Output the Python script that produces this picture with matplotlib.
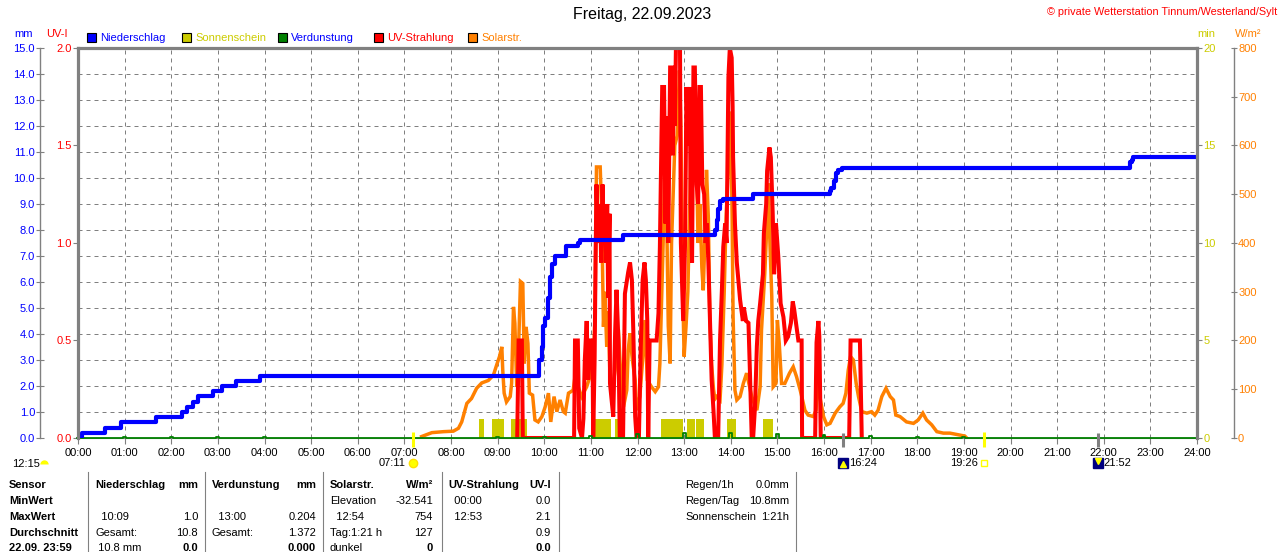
import matplotlib
matplotlib.use('Agg')
import matplotlib.pyplot as plt
from matplotlib.patches import Rectangle
from matplotlib.transforms import blended_transform_factory

plt.rcParams['font.family'] = ['Liberation Sans', 'DejaVu Sans']
plt.rcParams['font.size'] = 8

# Niederschlag, kumuliert (Stunde, mm) - Treppenkurve
rain_h = [0, 0.09, 0.58, 0.92, 1.67, 2.23, 2.33, 2.47, 2.57, 2.9, 3.09, 3.39, 3.9,
          9.89, 9.95, 9.98, 10.02, 10.09, 10.12, 10.16, 10.23, 10.47, 10.73, 10.77, 11.69,
          13.66, 13.7, 13.73, 13.76, 13.78, 13.83, 14.48,
          16.13, 16.16, 16.21, 16.26, 16.31, 16.38, 22.56, 22.6, 22.63, 24]
rain_mm = [0.0, 0.2, 0.4, 0.6, 0.8, 1.0, 1.2, 1.4, 1.6, 1.8, 2.0, 2.2, 2.4,
           3.0, 3.5, 4.3, 4.6, 5.4, 6.2, 6.7, 7.0, 7.4, 7.5, 7.6, 7.8,
           8.0, 8.4, 8.8, 9.0, 9.1, 9.2, 9.4,
           9.5, 9.6, 9.9, 10.2, 10.3, 10.4, 10.6, 10.7, 10.8, 10.8]

# Solarstrahlung (Stunde, W/m²)
sol_h = [7.37, 7.59, 7.84, 8.05, 8.16, 8.23, 8.34, 8.44, 8.55, 8.66, 8.80, 8.91, 8.98, 9.04,
         9.09, 9.11, 9.14, 9.19, 9.27, 9.30, 9.34, 9.37, 9.41, 9.44, 9.49, 9.54, 9.57, 9.61,
         9.65, 9.68, 9.75, 9.80, 9.87, 9.95, 10.02, 10.09, 10.14, 10.21, 10.27, 10.34, 10.41,
         10.45, 10.52, 10.62, 10.66, 10.73, 10.80, 10.91, 10.98, 11.05, 11.09, 11.12, 11.20,
         11.23, 11.27, 11.30, 11.34, 11.37, 11.41, 11.47, 11.52, 11.55, 11.59, 11.64, 11.70,
         11.77, 11.80, 11.84, 11.88, 11.90, 11.95, 11.98, 12.05, 12.11, 12.16, 12.21, 12.30,
         12.38, 12.45, 12.48, 12.52, 12.55, 12.59, 12.63, 12.66, 12.70, 12.73, 12.77, 12.80,
         12.85, 12.90, 12.93, 12.97, 13.00, 13.04, 13.08, 13.12, 13.16, 13.20, 13.23, 13.27,
         13.30, 13.34, 13.38, 13.41, 13.45, 13.48, 13.52, 13.55, 13.59, 13.63, 13.66, 13.70,
         13.77, 13.81, 13.86, 13.90, 13.95, 14.00, 14.03, 14.05, 14.09, 14.13, 14.20, 14.27,
         14.34, 14.45, 14.56, 14.63, 14.66, 14.73, 14.77, 14.81, 14.83, 14.88, 14.91, 14.97,
         15.00, 15.04, 15.09, 15.16, 15.26, 15.34, 15.41, 15.49, 15.54, 15.59, 15.66, 15.77,
         15.83, 15.88, 15.91, 15.99, 16.06, 16.13, 16.24, 16.34, 16.41, 16.47, 16.52, 16.57,
         16.63, 16.69, 16.74, 16.81, 16.92, 17.02, 17.09, 17.16, 17.24, 17.33, 17.42, 17.49,
         17.54, 17.63, 17.77, 17.92, 18.02, 18.12, 18.20, 18.31, 18.42, 18.56, 18.70, 18.81,
         18.92, 19.02, 19.06]
sol_w = [3, 11, 13, 14, 20, 33, 71, 81, 102, 113, 118, 129, 150, 167,
         187, 139, 92, 74, 85, 112, 269, 235, 105, 153, 321, 317, 153, 228,
         194, 92, 88, 37, 33, 44, 64, 92, 33, 85, 54, 78, 54,
         51, 92, 98, 126, 105, 85, 105, 126, 153, 250, 556, 556,
         470, 228, 300, 187, 260, 126, 105, 139, 200, 222, 133, 64,
         98, 180, 215, 170, 153, 119, 57, 85, 160, 242, 119, 105,
         95, 105, 153, 290, 400, 598, 430, 230, 153, 400, 515, 600,
         620, 754, 640, 300, 167, 228, 300, 480, 660, 560, 640, 540,
         400, 480, 350, 303, 420, 550, 450, 250, 150, 100, 80, 85,
         78, 150, 300, 450, 560, 670, 450, 250, 98, 78, 85, 112,
         133, 85, 57, 105, 222, 338, 427, 522, 430, 290, 105, 112,
         242, 194, 112, 112, 133, 146, 126, 98, 78, 57, 47, 44,
         57, 167, 85, 44, 27, 30, 51, 64, 71, 92, 139, 167,
         160, 112, 85, 54, 51, 54, 47, 57, 85, 102, 85, 78,
         47, 44, 33, 30, 37, 51, 37, 27, 13, 10, 10, 8,
         6, 4, 0]

# UV-Strahlung (Stunde, UV-I)
uv_h = [9.42, 9.45, 9.52, 9.54, 10.64, 10.66, 10.72, 10.75, 10.81, 10.84, 10.87, 10.91, 10.94,
        10.97, 11.02, 11.04, 11.05, 11.08, 11.10, 11.12, 11.15, 11.20, 11.22, 11.25, 11.28,
        11.30, 11.32, 11.35, 11.37, 11.40, 11.41, 11.48, 11.52, 11.55, 11.59, 11.62, 11.69,
        11.73, 11.80, 11.84, 11.88, 11.91, 11.95, 11.98, 12.03, 12.07, 12.11, 12.15, 12.18,
        12.21, 12.23, 12.26, 12.41, 12.45, 12.48, 12.50, 12.53, 12.57, 12.60, 12.63, 12.66,
        12.70, 12.74, 12.76, 12.78, 12.80, 12.83, 12.91, 12.93, 12.98, 13.02, 13.05, 13.08,
        13.12, 13.14, 13.17, 13.20, 13.23, 13.27, 13.30, 13.33, 13.36, 13.39, 13.43, 13.46,
        13.49, 13.52, 13.55, 13.59, 13.63, 13.66, 13.73, 13.77, 13.81, 13.84, 13.88, 13.91,
        13.95, 13.98, 14.02, 14.04, 14.05, 14.09, 14.13, 14.20, 14.26, 14.28, 14.33, 14.38,
        14.41, 14.45, 14.48, 14.52, 14.56, 14.59, 14.63, 14.69, 14.71, 14.76, 14.78, 14.83,
        14.86, 14.90, 14.93, 14.97, 15.02, 15.07, 15.13, 15.18, 15.23, 15.29, 15.33, 15.36,
        15.40, 15.45, 15.52, 15.53, 15.81, 15.84, 15.88, 15.90, 15.93, 16.54, 16.57, 16.77,
        16.81]
uv_i = [0, 0.5, 0.5, 0, 0, 0.5, 0.5, 0.05, 0, 0.1, 0.4, 0.6, 0.3,
        0.5, 0.5, 0.3, 0, 0.4, 0.9, 1.3, 1.0, 1.2, 0.9, 1.3, 1.0,
        1.18, 0.9, 1.2, 0.72, 1.15, 0.28, 0.11, 0.54, 0.76, 0.5, 0, 0,
        0.74, 0.85, 0.9, 0.81, 0.55, 0.11, 0, 0, 0.47, 0.81, 0.9, 0.81,
        0.6, 0, 0.5, 0.5, 0.64, 0.98, 1.3, 1.8, 1.8, 1.1, 1.65, 1.0,
        1.9, 1.9, 1.45, 1.9, 1.6, 2.1, 2.1, 1.0, 0.6, 1.0, 1.8, 1.5,
        1.8, 1.2, 0.9, 1.9, 1.9, 1.3, 1.2, 1.8, 1.8, 1.3, 1.25, 1.0,
        1.1, 0.9, 0.64, 0.3, 0.14, 0, 0, 0.5, 0.76, 0.98, 1.1, 1.0,
        1.85, 2.0, 1.95, 1.7, 1.44, 1.1, 0.9, 0.71, 0.6, 0.67, 0.6, 0.59,
        0.35, 0, 0, 0.16, 0.47, 0.6, 0.69, 0.84, 1.05, 1.2, 1.37, 1.49,
        1.44, 1.15, 0.84, 1.1, 0.93, 0.69, 0.62, 0.5, 0.52, 0.59, 0.7, 0.66,
        0.59, 0.5, 0.5, 0, 0, 0.49, 0.6, 0.52, 0, 0, 0.5, 0.5,
        0]

# Sonnenschein (Beginn, Ende in Stunden, Minuten)
sun_start = [8.59, 8.89, 9.29, 9.42, 11.09, 11.52, 12.50, 13.07, 13.25, 13.93, 14.69]
sun_end = [8.70, 9.14, 9.39, 9.64, 11.43, 11.61, 12.98, 13.23, 13.42, 14.11, 14.90]
sun_min = [1.0] * len(sun_start)

# Verdunstung je Stunde (mm)
evap_h = list(range(25))
evap_mm = [0.0, 0.03, 0.03, 0.03, 0.03, 0.0, 0.0, 0.0, 0.0, 0.02, 0.04, 0.06, 0.15,
           0.204, 0.2, 0.15, 0.1, 0.06, 0.04, 0.02, 0.0, 0.0, 0.0, 0.0, 0.0]

# Sonne/Mond Zeiten
sun_ev_h = [7.183, 19.433]
sun_ev_lbl = ['07:11', '19:26']
moon_ev_h = [16.4, 21.867]
moon_ev_lbl = ['16:24', '21:52']

hour_labels = ['%02d:00' % h for h in range(25)]
mm_ticks = list(range(16))
uv_ticks = [0, 0.5, 1.0, 1.5, 2.0]
min_ticks = [0, 5, 10, 15, 20]
w_ticks = list(range(0, 801, 100))

leg_names = ['Niederschlag', 'Sonnenschein', 'Verdunstung', 'UV-Strahlung', 'Solarstr.']
leg_box = ['#0000ff', '#cccc00', '#008000', '#ff0000', '#ff8000']
leg_txt = ['#0000ff', '#cccc00', '#0000ff', '#ff0000', '#ff8000']

tbl_rows = [
    ['Sensor', 'Niederschlag', 'mm', 'Verdunstung', 'mm', 'Solarstr.', 'W/m²', 'UV-Strahlung', 'UV-I'],
    ['MinWert', '', '', '', '', 'Elevation', '-32.541', '  00:00', '0.0'],
    ['MaxWert', '  10:09', '1.0', '  13:00', '0.204', '  12:54', '754', '  12:53', '2.1'],
    ['Durchschnitt', 'Gesamt:', '10.8', 'Gesamt:', '1.372', 'Tag:1:21 h', '127', '', '0.9'],
    ['22.09. 23:59', ' 10.8 mm', '0.0', '', '0.000', 'dunkel', '0', '', '0.0'],
]
info_lbl = ['Regen/1h', 'Regen/Tag', 'Sonnenschein']
info_val = ['0.0mm', '10.8mm', '1:21h']

GREY = '#808080'
W, H = 1280, 552


def fx(x):
    return x / W


def fy(y):
    return 1 - y / H


fig = plt.figure(figsize=(W / 100, H / 100), dpi=100)
ax = fig.add_axes([fx(78), fy(438), fx(1197) - fx(78), fy(48) - fy(438)])
ax_min = ax.twinx()
ax_w = ax.twinx()
ax_uv = ax.twinx()
ax_top = ax.twinx()

# Hauptachse (mm) mit Gitter
ax.set_xlim(0, 24)
ax.set_ylim(0, 15)
ax.set_xticks(range(25))
ax.set_xticklabels(hour_labels)
ax.set_yticks(mm_ticks)
ax.set_yticklabels(['%.1f' % v for v in mm_ticks])
ax.grid(True, color=GREY, linestyle=(0, (4, 4)), linewidth=0.72)
for s in ['top', 'right']:
    ax.spines[s].set_visible(False)
ax.spines['bottom'].set_color(GREY)
ax.spines['left'].set_position(('outward', 27.4))
ax.spines['left'].set_color(GREY)
ax.spines['left'].set_linewidth(1.0)
ax.tick_params(axis='y', colors=GREY, labelcolor='#0000ff', direction='inout', length=6, pad=0.5, width=0.8)
ax.tick_params(axis='x', colors=GREY, labelcolor='black', direction='out', length=4.5, pad=3, width=0.8)

# UV-I links
ax_uv.set_ylim(0, 2)
ax_uv.yaxis.tick_left()
ax_uv.set_yticks(uv_ticks)
ax_uv.set_yticklabels(['%.1f' % v for v in uv_ticks])
ax_uv.tick_params(axis='y', colors=GREY, labelcolor='#ff0000', direction='out', length=3.6, pad=0.8, width=0.8)

# Minuten rechts
ax_min.set_ylim(0, 20)
ax_min.set_yticks(min_ticks)
ax_min.tick_params(axis='y', colors=GREY, labelcolor='#cccc00', direction='out', length=3.6, pad=1, width=0.8)

# W/m² rechts aussen
ax_w.set_ylim(0, 800)
ax_w.set_yticks(w_ticks)
ax_w.spines['right'].set_position(('outward', 26.6))
ax_w.spines['right'].set_color(GREY)
ax_w.spines['right'].set_linewidth(1.0)
ax_w.tick_params(axis='y', colors=GREY, labelcolor='#ff8000', direction='inout', length=5, pad=0.5, width=0.8)

ax_top.set_ylim(0, 15)
ax_top.yaxis.set_visible(False)

for a in [ax_min, ax_w, ax_uv, ax_top]:
    for s in ['top', 'bottom', 'left', 'right']:
        if not (a is ax_w and s == 'right'):
            a.spines[s].set_visible(False)
for s in ['top', 'left', 'right']:
    ax_top.spines[s].set_visible(True)
    ax_top.spines[s].set_color(GREY)
    ax_top.spines[s].set_linewidth(2.3)

# Daten
widths = [e - s for s, e in zip(sun_start, sun_end)]
ax_min.bar(sun_start, sun_min, width=widths, align='edge', color='#cccc00', linewidth=0)
ax_w.plot(sol_h, sol_w, color='#ff8000', linewidth=2.5, solid_joinstyle='miter')
ax_uv.plot(uv_h, uv_i, color='#ff0000', linewidth=2.9, solid_joinstyle='miter')

ev_x, ev_y = [], []
for h, v in zip(evap_h, evap_mm):
    ev_x += [h - 0.03, h - 0.03, h + 0.03, h + 0.03]
    ev_y += [0, v, v, 0]
ax_top.plot(ev_x, ev_y, color='#008000', linewidth=1.3, clip_on=False)
ax_top.plot(rain_h, rain_mm, color='#0000ff', linewidth=3.0, drawstyle='steps-post')

# Markierungen Sonne / Mond
trans = blended_transform_factory(ax.transData, ax.transAxes)
ax_top.vlines(sun_ev_h, -0.024, 0.016, transform=trans, colors='#ffff00', linewidth=2.2, clip_on=False)
ax_top.vlines(moon_ev_h, -0.024, 0.012, transform=trans, colors=GREY, linewidth=2.2, clip_on=False)
ax_top.annotate(sun_ev_lbl[0], xy=(sun_ev_h[0], 0), xycoords=trans, xytext=(-7, -25),
                textcoords='offset pixels', ha='right', va='center', annotation_clip=False)
ax_top.plot([sun_ev_h[0]], [-0.064], transform=trans, marker='o', markersize=6, color='#ffff00',
            markeredgecolor='#ffe000', clip_on=False)
ax_top.annotate(sun_ev_lbl[1], xy=(sun_ev_h[1], 0), xycoords=trans, xytext=(-6, -25),
                textcoords='offset pixels', ha='right', va='center', annotation_clip=False)
ax_top.plot([sun_ev_h[1]], [-0.064], transform=trans, marker='s', markersize=4.5, markerfacecolor='white',
            markeredgecolor='#ffff00', markeredgewidth=1, clip_on=False)
for h, lbl in zip(moon_ev_h, moon_ev_lbl):
    ax_top.plot([h], [-0.064], transform=trans, marker='s', markersize=7, color='#000080', clip_on=False)
    ax_top.annotate(lbl, xy=(h, 0), xycoords=trans, xytext=(6, -25),
                    textcoords='offset pixels', ha='left', va='center', annotation_clip=False)
ax_top.plot([moon_ev_h[0]], [-0.066], transform=trans, marker='^', markersize=4, color='#ffff00', clip_on=False)
ax_top.plot([moon_ev_h[1]], [-0.060], transform=trans, marker='v', markersize=4, color='#ffff00', clip_on=False)

# Texte / Legende
fig.text(fx(642), fy(15), 'Freitag, 22.09.2023', ha='center', va='center', fontsize=11.5)
fig.text(fx(1277), fy(12), '© private Wetterstation Tinnum/Westerland/Sylt', ha='right', va='center',
         color='#ff0000', fontsize=7.8)
fig.text(fx(14), fy(34), 'mm', color='#0000ff', va='center')
fig.text(fx(46), fy(34), 'UV-I', color='#ff0000', va='center')
fig.text(fx(1197), fy(34), 'min', color='#cccc00', va='center')
fig.text(fx(1235), fy(34), 'W/m²', color='#ff8000', va='center')
box_x = [87, 182, 278, 374, 468]
for bx, name, cb, ct in zip(box_x, leg_names, leg_box, leg_txt):
    fig.add_artist(Rectangle((fx(bx), fy(42)), 9 / W, 9 / H, transform=fig.transFigure,
                             facecolor=cb, edgecolor='black', linewidth=0.8))
    fig.text(fx(bx + 13), fy(38), name, color=ct, va='center')

fig.text(fx(12), fy(464), '12:15', va='center')
fig.add_artist(matplotlib.lines.Line2D([fx(44)], [fy(464)], marker='o', markersize=6,
                                       fillstyle='top', markerfacecolor='#ffff00',
                                       markerfacecoloralt='none', markeredgewidth=0,
                                       transform=fig.transFigure))

# Tabelle
col_x = [9, 95, 198, 212, 316, 330, 433, 448, 551]
col_ha = ['left', 'left', 'right', 'left', 'right', 'left', 'right', 'left', 'right']
row_y = [485, 501, 517, 533, 548]
for r, (row, ry) in enumerate(zip(tbl_rows, row_y)):
    for c, txt in enumerate(row):
        bold = r == 0 or c == 0 or (r == 4 and c in (2, 4, 6, 8))
        fig.text(fx(col_x[c]), fy(ry), txt, ha=col_ha[c], va='center',
                 fontweight='bold' if bold else 'normal')
for lbl, val, ry in zip(info_lbl, info_val, row_y):
    fig.text(fx(685), fy(ry), lbl, va='center')
    fig.text(fx(789), fy(ry), val, ha='right', va='center')
for lx in [88, 205, 323, 441.5, 559, 795.5]:
    fig.add_artist(matplotlib.lines.Line2D([fx(lx), fx(lx)], [fy(472), 0], color=GREY,
                                           linewidth=0.8, transform=fig.transFigure))

fig.savefig('out.png', dpi=100)
